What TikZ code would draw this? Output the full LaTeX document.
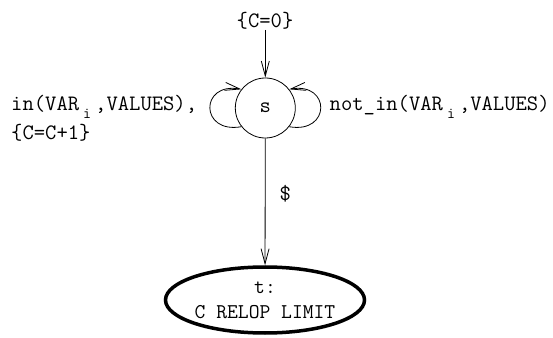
\documentclass[tikz,border=0pt]{standalone}
\usepackage{fontspec}
\usetikzlibrary{arrows.meta,shapes.geometric}
\newcommand\subidx{\makebox[16pt]{\raisebox{-8pt}[0pt][0pt]{\fontsize{15.5}{15.5}\selectfont i}}}
\begin{document}
\begin{tikzpicture}[x=1pt,y=1pt,
  txt/.style={font=\ttfamily\fontsize{22}{26}\selectfont, inner sep=0pt},
  arr/.style={line width=0.8pt, -{Straight Barb[length=15pt,width=8pt,line width=0.8pt]}},
  state/.style={circle, draw, line width=0.8pt, minimum size=60pt, inner sep=0pt},
  final/.style={ellipse, draw, line width=3.5pt, minimum width=199pt, minimum height=66pt,
    inner xsep=-1pt, inner ysep=0pt, align=center, font=\ttfamily\fontsize{21}{25}\selectfont}
]
\useasboundingbox (0,0) rectangle (553,337);
\node[state, txt] (s) at (265.3,229) {s};
\node[final] (t) at (265,37) {t:\\C RELOP LIMIT};
\node[txt, anchor=base] (init) at (265,309) {\{C=0\}};
\coordinate (start) at (265.3,307);
\draw[arr] (start) -- (s);
\draw[arr] (s) -- node[txt, pos=0.44, right=14pt] (dollar) {\$} (t);
\draw[arr] (s.218) to[out=190,in=170,looseness=2.9] (s.142);
\draw[arr] (s.322) to[out=-10,in=10,looseness=2.9] (s.38);
\node[txt, anchor=base west] (la) at (11,226) {in(VAR\subidx,VALUES),};
\node[txt, anchor=base west] (lb) at (11,197.5) {\{C=C+1\}};
\node[txt, anchor=base west] (ra) at (329.5,226) {not\_in(VAR\subidx,VALUES)};
\end{tikzpicture}
\end{document}
